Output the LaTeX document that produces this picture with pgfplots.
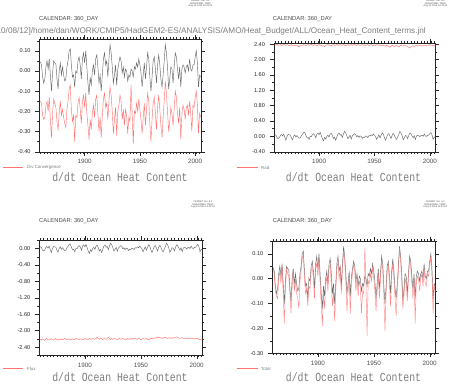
\documentclass[border=0pt]{standalone}
\usepackage{pgfplots}
\pgfplotsset{compat=1.18}
\usepackage{pgfplotstable}
\usepackage{fontspec}
\setmainfont{Liberation Sans}
\newfontfamily\monofont{Liberation Mono}
\definecolor{fgray}{RGB}{105,105,105}
\definecolor{fred}{RGB}{255,115,115}
\definecolor{txtgray}{RGB}{125,125,125}

\pgfplotstableread{
year G T D R F
1860 0.045 0.04 -0.15 2.39 -2.21
1861 0.03 0.02 -0.16 2.38 -2.23
1862 -0.03 -0.05 -0.22 2.40 -2.20
1863 -0.06 -0.07 -0.24 2.37 -2.22
1864 -0.04 -0.08 -0.23 2.38 -2.24
1865 0.02 0.00 -0.17 2.39 -2.21
1866 0.05 0.03 -0.15 2.36 -2.19
1867 0.01 -0.02 -0.20 2.38 -2.22
1868 0.06 0.05 -0.13 2.40 -2.23
1869 -0.02 -0.06 -0.24 2.38 -2.21
1870 -0.10 -0.18 -0.33 2.37 -2.20
1871 -0.01 -0.04 -0.21 2.39 -2.22
1872 0.05 0.04 -0.14 2.38 -2.23
1873 0.04 0.02 -0.16 2.36 -2.21
1874 0.035 0.01 -0.18 2.38 -2.19
1875 -0.04 -0.06 -0.25 2.39 -2.22
1876 -0.09 -0.14 -0.29 2.37 -2.23
1877 0.00 -0.03 -0.21 2.38 -2.21
1878 0.04 0.03 -0.15 2.36 -2.22
1879 -0.02 -0.05 -0.22 2.38 -2.20
1880 0.02 0.00 -0.19 2.37 -2.22
1881 -0.02 -0.06 -0.23 2.35 -2.21
1882 -0.05 -0.08 -0.26 2.33 -2.19
1883 -0.04 -0.12 -0.28 2.36 -2.21
1884 0.02 -0.01 -0.19 2.38 -2.22
1885 0.05 0.03 -0.15 2.37 -2.20
1886 0.10 0.08 -0.09 2.39 -2.21
1887 0.11 0.10 -0.07 2.38 -2.23
1888 0.03 0.00 -0.19 2.36 -2.21
1889 -0.03 -0.06 -0.25 2.38 -2.20
1890 -0.02 -0.04 -0.22 2.39 -2.22
1891 -0.08 -0.11 -0.35 2.37 -2.21
1892 0.00 -0.03 -0.22 2.38 -2.19
1893 -0.01 -0.04 -0.23 2.40 -2.21
1894 0.05 0.03 -0.16 2.38 -2.20
1895 0.07 0.05 -0.13 2.37 -2.22
1896 0.03 0.00 -0.19 2.39 -2.21
1897 -0.04 -0.08 -0.26 2.38 -2.20
1898 0.06 0.04 -0.15 2.36 -2.22
1899 0.09 0.06 -0.12 2.38 -2.21
1900 0.04 0.01 -0.18 2.39 -2.19
1901 0.10 0.08 -0.11 2.37 -2.21
1902 0.02 -0.02 -0.21 2.38 -2.20
1903 -0.06 -0.10 -0.27 2.35 -2.22
1904 -0.12 -0.19 -0.34 2.36 -2.19
1905 -0.03 -0.06 -0.24 2.34 -2.21
1906 -0.07 -0.12 -0.29 2.37 -2.20
1907 0.00 -0.03 -0.21 2.38 -2.18
1908 0.03 0.01 -0.17 2.39 -2.20
1909 -0.02 -0.05 -0.23 2.37 -2.21
1910 0.06 0.04 -0.14 2.38 -2.19
1911 0.08 0.06 -0.12 2.36 -2.16
1912 0.02 -0.02 -0.21 2.38 -2.19
1913 -0.06 -0.11 -0.30 2.39 -2.21
1914 -0.02 -0.05 -0.23 2.37 -2.18
1915 -0.10 -0.17 -0.33 2.38 -2.20
1916 -0.02 -0.05 -0.22 2.40 -2.22
1917 0.06 0.04 -0.14 2.38 -2.19
1918 0.09 0.07 -0.11 2.37 -2.20
1919 0.03 0.00 -0.18 2.39 -2.21
1920 0.05 0.03 -0.16 2.38 -2.19
1921 -0.03 -0.06 -0.24 2.37 -2.16
1922 0.06 0.04 -0.15 2.39 -2.20
1923 0.13 0.11 -0.08 2.38 -2.22
1924 0.09 0.07 -0.12 2.36 -2.19
1925 0.02 -0.01 -0.20 2.38 -2.21
1926 -0.06 -0.13 -0.31 2.39 -2.20
1927 -0.02 -0.05 -0.24 2.37 -2.19
1928 0.03 0.01 -0.18 2.38 -2.21
1929 -0.07 -0.14 -0.32 2.39 -2.22
1930 0.01 -0.02 -0.20 2.37 -2.20
1931 0.04 0.02 -0.17 2.38 -2.19
1932 0.07 0.06 -0.12 2.40 -2.21
1933 0.05 0.03 -0.15 2.38 -2.20
1934 -0.01 -0.05 -0.24 2.37 -2.19
1935 0.02 0.00 -0.19 2.39 -2.21
1936 -0.03 -0.07 -0.27 2.38 -2.20
1937 0.01 -0.01 -0.19 2.37 -2.22
1938 0.00 -0.03 -0.22 2.38 -2.19
1939 -0.05 -0.14 -0.31 2.39 -2.21
1940 -0.02 -0.05 -0.23 2.37 -2.20
1941 -0.03 -0.06 -0.25 2.38 -2.18
1942 0.01 0.125 -0.07 2.36 -2.21
1943 0.00 -0.02 -0.21 2.38 -2.19
1944 -0.03 -0.23 -0.36 2.39 -2.20
1945 0.02 -0.01 -0.20 2.37 -2.18
1946 0.01 -0.02 -0.21 2.38 -2.20
1947 0.04 0.02 -0.16 2.39 -2.21
1948 0.02 -0.01 -0.20 2.38 -2.19
1949 0.06 0.05 -0.14 2.36 -2.20
1950 0.03 0.00 -0.19 2.38 -2.22
1951 -0.01 -0.05 -0.24 2.37 -2.21
1952 -0.08 -0.13 -0.31 2.39 -2.19
1953 -0.02 -0.05 -0.23 2.38 -2.20
1954 0.04 0.02 -0.16 2.37 -2.21
1955 -0.04 -0.08 -0.27 2.38 -2.19
1956 0.02 0.00 -0.19 2.36 -2.21
1957 0.09 0.07 -0.11 2.38 -2.22
1958 0.06 0.04 -0.15 2.37 -2.20
1959 -0.03 -0.07 -0.26 2.36 -2.18
1960 -0.10 -0.21 -0.35 2.35 -2.20
1961 -0.03 -0.06 -0.24 2.37 -2.18
1962 0.05 0.03 -0.16 2.36 -2.19
1963 0.07 0.05 -0.13 2.34 -2.17
1964 0.01 -0.02 -0.21 2.32 -2.18
1965 -0.06 -0.11 -0.29 2.35 -2.15
1966 0.03 0.01 -0.18 2.37 -2.17
1967 0.08 0.06 -0.12 2.36 -2.16
1968 0.03 0.00 -0.19 2.34 -2.18
1969 -0.04 -0.08 -0.27 2.36 -2.19
1970 -0.08 -0.15 -0.33 2.37 -2.17
1971 -0.02 -0.05 -0.23 2.35 -2.18
1972 0.05 0.03 -0.15 2.33 -2.16
1973 0.13 0.125 -0.05 2.36 -2.18
1974 0.09 0.07 -0.11 2.37 -2.19
1975 0.02 -0.01 -0.20 2.35 -2.17
1976 -0.09 -0.12 -0.30 2.36 -2.18
1977 -0.04 -0.07 -0.25 2.38 -2.19
1978 0.02 0.00 -0.18 2.36 -2.17
1979 0.01 -0.02 -0.21 2.35 -2.18
1980 -0.06 -0.09 -0.27 2.34 -2.17
1981 0.02 0.00 -0.19 2.32 -2.16
1982 0.09 0.08 -0.10 2.30 -2.15
1983 0.07 0.05 -0.13 2.33 -2.17
1984 0.01 -0.02 -0.21 2.35 -2.18
1985 -0.04 -0.08 -0.26 2.36 -2.19
1986 0.02 0.00 -0.18 2.34 -2.18
1987 -0.08 -0.18 -0.34 2.36 -2.17
1988 0.01 -0.02 -0.21 2.37 -2.19
1989 0.03 0.01 -0.17 2.35 -2.18
1990 0.02 0.00 -0.19 2.36 -2.19
1991 -0.01 -0.05 -0.24 2.38 -2.20
1992 0.02 0.00 -0.18 2.37 -2.18
1993 0.03 0.02 -0.17 2.35 -2.19
1994 0.00 -0.03 -0.22 2.37 -2.20
1995 0.06 0.04 -0.15 2.38 -2.19
1996 0.01 -0.02 -0.21 2.36 -2.18
1997 0.00 -0.03 -0.30 2.37 -2.20
1998 0.03 0.02 -0.17 2.38 -2.19
1999 0.03 0.01 -0.18 2.37 -2.18
2000 0.07 0.05 -0.13 2.39 -2.20
2001 0.10 0.09 -0.10 2.38 -2.19
2002 0.04 0.02 -0.17 2.37 -2.21
2003 -0.08 -0.14 -0.31 2.35 -2.23
2004 -0.02 -0.03 -0.21 2.38 -2.20
2005 -0.03 -0.05 -0.23 2.37 -2.21
}\data

\tikzset{
  gline/.style={fgray, line width=0.45pt},
  rline/.style={fred, line width=0.45pt},
}
\pgfplotsset{
  ferret/.style={
    scale only axis,
    xmin=1859, xmax=2005,
    tick align=outside,
    major tick length=4pt,
    minor tick length=2pt,
    xtick={1900,1950,2000},
    minor xtick={1860,1863,...,2005},
    axis line style={line width=0.4pt, black!85},
    every tick/.style={black!85, line width=0.35pt},
    xtick pos=both, ytick pos=both,
    xticklabel pos=bottom, yticklabel pos=left,
    /pgf/number format/assume math mode=true,
    xticklabel style={font=\fontsize{6.3}{7}\selectfont, text=black!70,
      /pgf/number format/1000 sep={}},
    yticklabel style={font=\fontsize{5.6}{6}\selectfont, text=black!85, xshift=-1.2pt,
      /pgf/number format/.cd, fixed, fixed zerofill, precision=2},
  },
}

\begin{document}
\begin{tikzpicture}
\path[use as bounding box] (0pt,0pt) rectangle (452pt,384pt);

% Top-left
\begin{axis}[ferret, at={(39.3pt,232.3pt)}, anchor=south west,
  width=161.4pt, height=112.4pt,
  ymin=-0.4, ymax=0.157,
  ytick={-0.4,-0.3,-0.2,-0.1,0,0.1},
  minor ytick={-0.35,-0.25,-0.15,-0.05,0.05,0.15}]
\addplot[gline] table[x=year,y=G]{\data};
\addplot[rline] table[x=year,y=D]{\data};
\end{axis}

% Top-right
\begin{axis}[ferret, at={(273.7pt,232.3pt)}, anchor=south west,
  width=161.6pt, height=109pt,
  ymin=-0.4, ymax=2.44,
  ytick={-0.4,0,0.4,0.8,1.2,1.6,2.0,2.4},
  minor ytick={-0.2,0.2,0.6,1.0,1.4,1.8,2.2}]
\addplot[gline] table[x=year,y=G]{\data};
\addplot[rline] table[x=year,y=R]{\data};
\end{axis}

% Bottom-left
\begin{axis}[ferret, at={(39pt,28.7pt)}, anchor=south west,
  width=163.3pt, height=115pt,
  ymin=-2.6, ymax=0.2,
  ytick={-2.4,-2.0,-1.6,-1.2,-0.8,-0.4,0},
  minor ytick={-2.6,-2.2,-1.8,-1.4,-1.0,-0.6,-0.2,0.2}]
\addplot[gline] table[x=year,y=G]{\data};
\addplot[rline] table[x=year,y=F]{\data};
\end{axis}

% Bottom-right
\begin{axis}[ferret, at={(272pt,30.7pt)}, anchor=south west,
  width=163.3pt, height=112pt,
  ymin=-0.3, ymax=0.15,
  ytick={-0.3,-0.2,-0.1,0,0.1},
  minor ytick={-0.25,-0.15,-0.05,0.05,0.15}]
\addplot[gline] table[x=year,y=G]{\data};
\addplot[rline, opacity=0.85] table[x=year,y=T]{\data};
\end{axis}

% long journal-file title
\node[anchor=base east, inner sep=0, text=txtgray, font=\fontsize{8.2}{9}\selectfont]
  at (426pt,351pt) {[2010/08/12]/home/dan/WORK/CMIP5/HadGEM2-ES/ANALYSIS/AMO/Heat\_Budget/ALL/Ocean\_Heat\_Content\_terms.jnl};

% CALENDAR labels
\foreach \xx/\yy in {39/365, 272.7/365, 39/163, 272.7/163}{
  \node[anchor=west, inner sep=0, text=black!70, font=\fontsize{5.8}{6}\selectfont]
    at (\xx pt,\yy pt) {CALENDAR: 360\_DAY};
}

% Ferret stamps
\foreach \xx/\yy in {200.5/384, 435.5/384, 203/183, 435.3/183}{
  \node[anchor=north, align=center, inner sep=0, text=black!70, font=\fontsize{2.4}{2.5}\selectfont]
    at (\xx pt,\yy pt) {FERRET Ver. 6.1\\NOAA/PMEL TMAP\\Aug 13 2013 12:43:24};
}

% legends
\draw[rline] (3pt,216.3pt) -- (23pt,216.3pt);
\node[anchor=west, inner sep=0, text=txtgray, font=\fontsize{4.4}{5}\selectfont] at (27pt,216.3pt) {Div Convergence};
\draw[rline] (237pt,216.3pt) -- (257.7pt,216.3pt);
\node[anchor=west, inner sep=0, text=txtgray, font=\fontsize{4.4}{5}\selectfont] at (261pt,216.3pt) {Rad};
\draw[rline] (3pt,15.3pt) -- (23pt,15.3pt);
\node[anchor=west, inner sep=0, text=txtgray, font=\fontsize{4.4}{5}\selectfont] at (27pt,15.3pt) {Flux};
\draw[rline] (237pt,15.3pt) -- (257.7pt,15.3pt);
\node[anchor=west, inner sep=0, text=txtgray, font=\fontsize{4.4}{5}\selectfont] at (261pt,15.3pt) {Total};

% panel titles
\foreach \xx/\yy in {120/207.3, 353.5/207.3, 120/7, 353.5/7}{
  \node[inner sep=0, text=txtgray] at (\xx pt,\yy pt)
    {\scalebox{1}[1.25]{\monofont\fontsize{9.8}{10}\selectfont d/dt Ocean Heat Content}};
}
\end{tikzpicture}
\end{document}
